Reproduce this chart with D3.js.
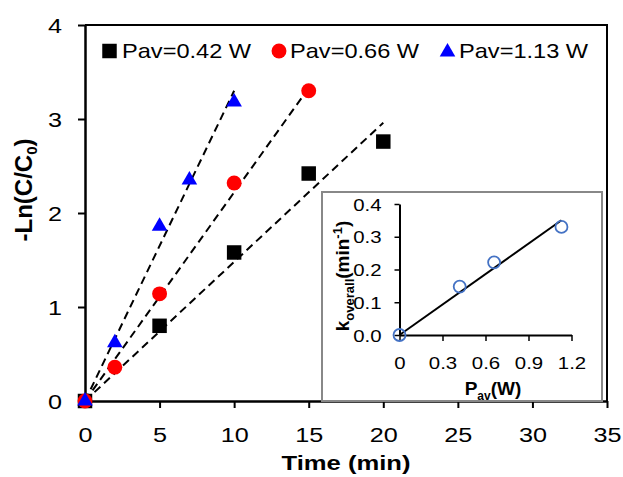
<!DOCTYPE html>
<html>
<head>
<meta charset="utf-8">
<script src="https://cdn.jsdelivr.net/npm/d3@7"></script>
<style>
  body { margin: 0; background: #fff; }
  svg { font-family: "Liberation Sans", Arial, sans-serif; }
</style>
</head>
<body>
<div id="chart"></div>
<script>
// main chart data: -ln(C/C0) vs time for three powers
var seriesNames = ['Pav=0.42 W', 'Pav=0.66 W', 'Pav=1.13 W'];
var timesLow = [0, 5, 10, 15, 20];
var valuesLow = [0, 0.80, 1.58, 2.42, 2.76];
var timesMid = [0, 2, 5, 10, 15];
var valuesMid = [0, 0.36, 1.14, 2.32, 3.30];
var timesHigh = [0, 2, 5, 7, 10];
var valuesHigh = [0, 0.62, 1.86, 2.35, 3.18];

// inset data: overall rate constant vs power
var powers = [0, 0.42, 0.66, 1.13];
var kValues = [0, 0.148, 0.222, 0.330];
var fitSlope = 0.31;

var xTicks = [0, 5, 10, 15, 20, 25, 30, 35];
var yTicks = [0, 1, 2, 3, 4];
var insetXTicks = [0, 0.3, 0.6, 0.9, 1.2];
var insetYTicks = [0, 0.1, 0.2, 0.3, 0.4];

var width = 623, height = 477;
var stretch = 1.2; // text in the original looks a bit wide

var svg = d3.select('#chart')
  .append('svg')
  .attr('width', width)
  .attr('height', height);

var x = d3.scaleLinear().domain([0, 35]).range([85, 607]);
var y = d3.scaleLinear().domain([0, 4]).range([401, 25]);

// frame top and right
svg.append('path')
  .attr('d', 'M' + x(0) + ',' + y(4) + 'H' + x(35) + 'V' + y(0))
  .attr('fill', 'none')
  .attr('stroke', '#000')
  .attr('stroke-width', 2);

var xAxis = svg.append('g')
  .attr('transform', 'translate(0,' + y(0) + ')')
  .call(d3.axisBottom(x).tickValues(xTicks).tickSize(7).tickSizeOuter(0).tickPadding(19));

var yAxis = svg.append('g')
  .attr('transform', 'translate(' + x(0) + ',0)')
  .call(d3.axisLeft(y).tickValues(yTicks).tickSize(7).tickSizeOuter(0).tickFormat(d3.format('d')));

[xAxis, yAxis].forEach(function (g) {
  g.select('.domain').attr('stroke-width', 2.5);
  g.selectAll('.tick line').attr('stroke-width', 2);
  g.selectAll('.tick text')
    .attr('font-size', 21)
    .attr('fill', '#000')
    .attr('transform', 'scale(' + stretch + ',1)')
    .style('font-family', '"Liberation Sans", Arial, sans-serif');
});
yAxis.selectAll('.tick text').attr('x', -23 / stretch).attr('dy', '0.36em');

svg.append('text')
  .attr('transform', 'translate(' + x(17.5) + ',470) scale(1.22,1)')
  .attr('text-anchor', 'middle')
  .attr('font-size', 21)
  .attr('font-weight', 'bold')
  .text('Time (min)');

var yLabel = svg.append('text')
  .attr('transform', 'translate(32,190) rotate(-90)')
  .attr('text-anchor', 'middle')
  .attr('font-size', 24)
  .attr('font-weight', 'bold');
yLabel.append('tspan').text('-Ln(C/C');
yLabel.append('tspan').attr('font-size', 15).attr('dy', 5).text('0');
yLabel.append('tspan').attr('dy', -5).text(')');

var series = [
  { name: seriesNames[0], t: timesLow, v: valuesLow, k: kValues[1], color: '#000', shape: d3.symbolSquare },
  { name: seriesNames[1], t: timesMid, v: valuesMid, k: kValues[2], color: '#ff0000', shape: d3.symbolCircle },
  { name: seriesNames[2], t: timesHigh, v: valuesHigh, k: kValues[3], color: '#0000ff', shape: d3.symbolTriangle }
];

// dashed linear fits through origin
series.forEach(function (s) {
  var tEnd = s.t[s.t.length - 1];
  svg.append('line')
    .attr('x1', x(0)).attr('y1', y(0))
    .attr('x2', x(tEnd)).attr('y2', y(s.k * tEnd))
    .attr('stroke', '#000')
    .attr('stroke-width', 2)
    .attr('stroke-dasharray', '8,5');
});

var symbolSize = [210, 175, 105];

series.forEach(function (s, si) {
  svg.selectAll('.pt' + si)
    .data(s.t)
    .enter()
    .append('path')
    .attr('d', d3.symbol().type(s.shape).size(symbolSize[si]))
    .attr('transform', function (d, i) {
      return 'translate(' + x(d) + ',' + y(s.v[i]) + ')';
    })
    .attr('fill', s.color);
});

// legend
var legendX = [109.5, 279, 447.5];
var legendTextX = [122, 290, 459];
series.forEach(function (s, si) {
  svg.append('path')
    .attr('d', d3.symbol().type(s.shape).size(symbolSize[si]))
    .attr('transform', 'translate(' + legendX[si] + ',' + (si === 2 ? 52 : 51) + ')')
    .attr('fill', s.color);
  svg.append('text')
    .attr('transform', 'translate(' + legendTextX[si] + ',58) scale(1.18,1)')
    .attr('font-size', 20)
    .text(s.name);
});

// inset
svg.append('rect')
  .attr('x', 322).attr('y', 192)
  .attr('width', 280).attr('height', 209)
  .attr('fill', '#fff')
  .attr('stroke', '#888')
  .attr('stroke-width', 2);

var ix = d3.scaleLinear().domain([0, 1.2]).range([399.5, 571.5]);
var iy = d3.scaleLinear().domain([0, 0.4]).range([335, 204]);

var ixAxis = svg.append('g')
  .attr('transform', 'translate(0,' + iy(0) + ')')
  .call(d3.axisBottom(ix).tickValues(insetXTicks).tickSize(6).tickSizeOuter(0).tickPadding(16)
    .tickFormat(function (d) { return d === 0 ? '0' : d3.format('.1f')(d); }));

var iyAxis = svg.append('g')
  .attr('transform', 'translate(' + ix(0) + ',0)')
  .call(d3.axisLeft(iy).tickValues(insetYTicks).tickSize(5).tickSizeOuter(0)
    .tickFormat(d3.format('.1f')));

[ixAxis, iyAxis].forEach(function (g) {
  g.select('.domain').attr('stroke-width', 2);
  g.selectAll('.tick line').attr('stroke-width', 1.5);
  g.selectAll('.tick text')
    .attr('font-size', 17)
    .attr('fill', '#000')
    .attr('transform', 'scale(' + stretch + ',1)')
    .style('font-family', '"Liberation Sans", Arial, sans-serif');
});
iyAxis.selectAll('.tick text').attr('x', -18 / stretch).attr('dy', '0.36em');

svg.append('line')
  .attr('x1', ix(0)).attr('y1', iy(0))
  .attr('x2', ix(powers[3])).attr('y2', iy(fitSlope * powers[3]))
  .attr('stroke', '#000')
  .attr('stroke-width', 2);

svg.selectAll('.ipt')
  .data(powers)
  .enter()
  .append('circle')
  .attr('cx', function (d) { return ix(d); })
  .attr('cy', function (d, i) { return iy(kValues[i]); })
  .attr('r', 6)
  .attr('fill', 'none')
  .attr('stroke', '#4472c4')
  .attr('stroke-width', 1.8);

var ixLabel = svg.append('text')
  .attr('x', 493)
  .attr('y', 395)
  .attr('text-anchor', 'middle')
  .attr('font-size', 19)
  .attr('font-weight', 'bold');
ixLabel.append('tspan').text('P');
ixLabel.append('tspan').attr('font-size', 12).attr('dy', 5).text('av');
ixLabel.append('tspan').attr('dy', -5).text('(W)');

var iyLabel = svg.append('text')
  .attr('transform', 'translate(349,276) rotate(-90)')
  .attr('text-anchor', 'middle')
  .attr('font-size', 19)
  .attr('font-weight', 'bold');
iyLabel.append('tspan').text('k');
iyLabel.append('tspan').attr('font-size', 13).attr('dy', 5).text('overall');
iyLabel.append('tspan').attr('dy', -5).text('(min');
iyLabel.append('tspan').attr('font-size', 13).attr('dy', -7).text('-1');
iyLabel.append('tspan').attr('dy', 7).text(')');
</script>
</body>
</html>
